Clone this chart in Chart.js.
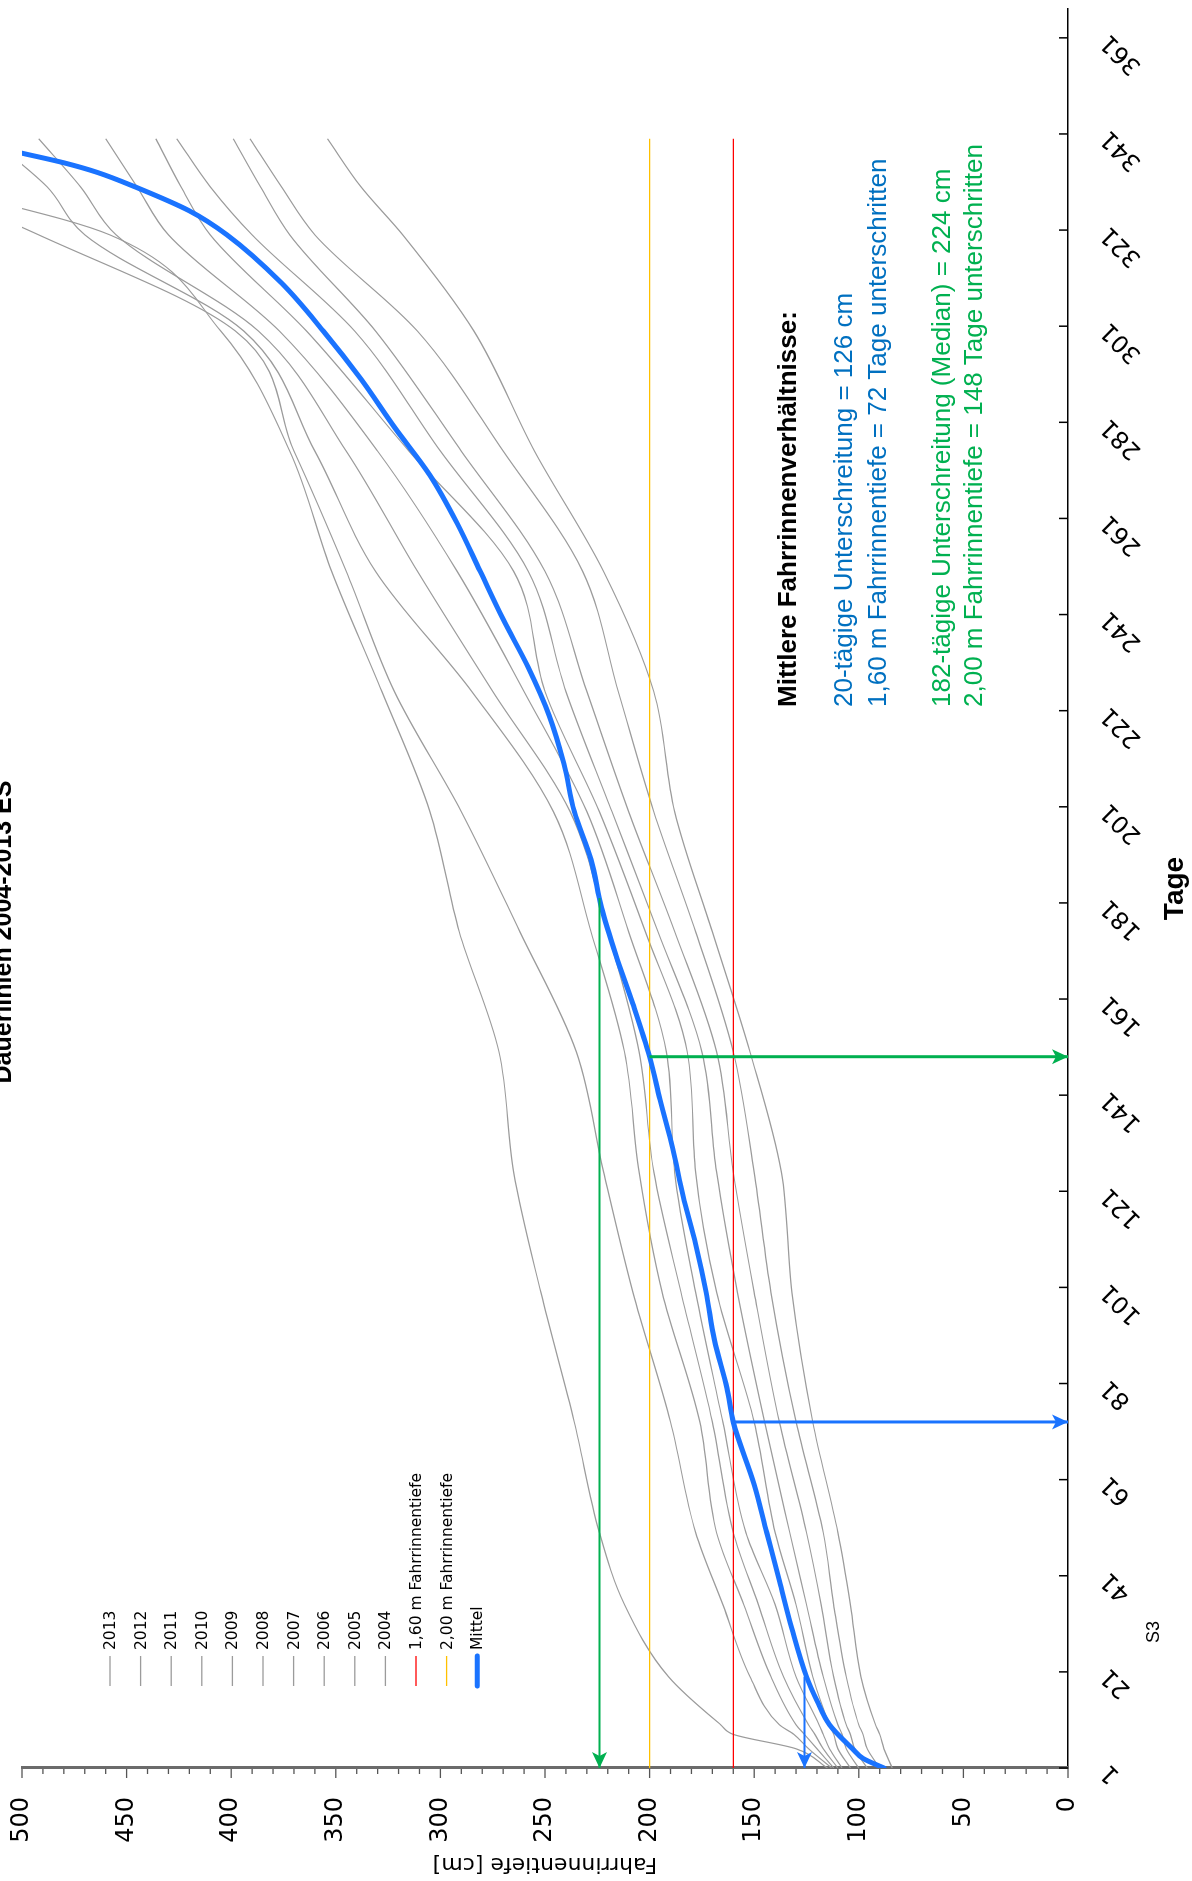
<!DOCTYPE html>
<html>
<head>
<meta charset="utf-8">
<script src="https://cdn.jsdelivr.net/npm/chart.js@4.4.0/dist/chart.umd.min.js"></script>
<style>
html, body { margin: 0; padding: 0; background: #fff; overflow: hidden; }
/* Diagramm liegt quer: Leinwand 1881x1192, um 90 Grad gegen den Uhrzeigersinn gedreht */
#wrap { position: absolute; left: 0; top: 0; width: 1881px; height: 1192px;
        transform-origin: 0 0; transform: translate(0, 1881px) rotate(-90deg); }
</style>
</head>
<body>
<div id="wrap"><canvas id="dauerlinien" width="1881" height="1192"></canvas></div>
<script>
/* Werte (Tage / Fahrrinnentiefe in cm) */

const grauTage = [1, 5, 8, 10, 20, 35, 50, 73, 100, 125, 150, 175, 200, 225, 250, 275, 300, 320, 330, 340];
const jahre = ['2013', '2012', '2011', '2010', '2009', '2008', '2007', '2006', '2005', '2004'];

const werte2013 = [115, 130, 160, 166, 191, 212, 224, 236, 252, 265, 272, 291, 305, 328, 352, 372, 405, 458, 540, 620];
const werte2012 = [113, 124, 131, 138, 152, 165, 178, 190, 208, 222, 235, 262, 290, 322, 345, 370, 398, 492, 545, 600];
const werte2011 = [112, 120, 126, 130, 142, 155, 168, 176, 194, 205, 212, 228, 246, 285, 331, 360, 394, 470, 488, 515];
const werte2010 = [110, 117, 121, 124, 136, 148, 160, 170, 185, 198, 205, 220, 238, 275, 311, 345, 387, 455, 472, 492];
const werte2009 = [108, 114, 117, 119, 130, 140, 154, 165, 178, 188, 192, 210, 230, 260, 292, 330, 377, 430, 445, 460];
const werte2008 = [104, 110, 112, 114, 122, 130, 140, 150, 168, 178, 182, 202, 224, 250, 265, 315, 364, 410, 424, 436];
const werte2007 = [100, 106, 108, 110, 117, 125, 133, 145, 158, 168, 175, 196, 218, 240, 258, 300, 341, 390, 410, 426];
const werte2006 = [96, 102, 104, 106, 112, 118, 125, 138, 150, 160, 168, 188, 210, 230, 250, 290, 331, 372, 386, 399];
const werte2005 = [90, 96, 98, 100, 106, 112, 117, 130, 142, 150, 160, 178, 198, 215, 232, 270, 311, 360, 376, 391];
const werte2004 = [84, 88, 90, 92, 99, 104, 110, 122, 132, 137, 152, 170, 188, 198, 222, 255, 284, 318, 338, 354];
const jahresWerte = [werte2013, werte2012, werte2011, werte2010, werte2009, werte2008, werte2007, werte2006, werte2005, werte2004];

const mittelTage = [1, 3, 5, 10, 15, 20, 30, 40, 50, 60, 73, 80, 90, 100, 110, 120, 130, 140, 149, 160, 170, 180,
                    190, 200, 210, 220, 230, 240, 250, 260, 270, 280, 290, 300, 310, 320, 325, 330, 333, 335, 337];
const mittelWerte = [88, 98, 103, 114, 120, 125, 132, 138, 144, 150, 160, 163, 169, 173, 178, 184, 189, 195, 200, 208, 216, 223,
                     228, 236, 241, 248, 258, 270, 281, 292, 305, 322, 338, 356, 376, 402, 420, 446, 464, 480, 500];

const schwelleTage = [1, 340];
const schwelle160 = [160, 160];
const schwelle200 = [200, 200];

// Pfeile: 72 Tage unter 1,60 m, 20-taegige Unterschreitung 126 cm, 148 Tage unter 2,00 m, Median 224 cm
const pfeil160Tage = [73, 73];   const pfeil160Werte = [160, 0];
const pfeil20Tage = [20, 1];     const pfeil20Werte = [126, 126];
const pfeil200Tage = [149, 149]; const pfeil200Werte = [200, 0];
const pfeil182Tage = [182, 1];   const pfeil182Werte = [224, 224];

const tagTicks = [1, 21, 41, 61, 81, 101, 121, 141, 161, 181, 201, 221, 241, 261, 281, 301, 321, 341, 361];
const tiefeTicks = [0, 50, 100, 150, 200, 250, 300, 350, 400, 450, 500];

const BLAU = '#1a73ff';
const GRUEN = '#00b050';

function punkte(tage, werte) {
    return tage.map((t, i) => ({ x: t, y: werte[i] }));
}

const datasets = [];

datasets.push({ label: 'Mittel', data: punkte(mittelTage, mittelWerte), borderColor: BLAU, borderWidth: 5,
    borderCapStyle: 'round', borderJoinStyle: 'round', cubicInterpolationMode: 'monotone', order: 2, legende: true });

jahre.forEach((j, i) => {
    datasets.push({ label: j, data: punkte(grauTage, jahresWerte[i]), borderColor: '#9b9b9b', borderWidth: 1.2,
        cubicInterpolationMode: 'monotone', order: 10, legende: true });
});

datasets.push({ label: '1,60 m Fahrrinnentiefe', data: punkte(schwelleTage, schwelle160), borderColor: '#ff0000',
    borderWidth: 1.2, order: 5, legende: true });
datasets.push({ label: '2,00 m Fahrrinnentiefe', data: punkte(schwelleTage, schwelle200), borderColor: '#ffc000',
    borderWidth: 1.2, order: 5, legende: true });

datasets.push({ label: 'p160', data: punkte(pfeil160Tage, pfeil160Werte), borderColor: BLAU, borderWidth: 3, order: 1, pfeil: true });
datasets.push({ label: 'p20', data: punkte(pfeil20Tage, pfeil20Werte), borderColor: BLAU, borderWidth: 2, order: 1, pfeil: true });
datasets.push({ label: 'p200', data: punkte(pfeil200Tage, pfeil200Werte), borderColor: GRUEN, borderWidth: 3, order: 1, pfeil: true });
datasets.push({ label: 'p182', data: punkte(pfeil182Tage, pfeil182Werte), borderColor: GRUEN, borderWidth: 2, order: 1, pfeil: true });

// Reihenfolge der Legende wie im Original
const legendenFolge = jahre.concat(['1,60 m Fahrrinnentiefe', '2,00 m Fahrrinnentiefe', 'Mittel']);

/* Striche an den Achsen: Tage nach innen, Tiefe nach aussen (10er klein, 50er gross) */
const achsenStriche = {
    id: 'achsenStriche',
    afterDraw(chart) {
        const { ctx, chartArea } = chart;
        const x = chart.scales.x, y = chart.scales.y;
        ctx.save();
        ctx.strokeStyle = '#000';
        ctx.lineWidth = 1.5;
        x.ticks.forEach(t => {
            const px = x.getPixelForValue(t.value);
            ctx.beginPath();
            ctx.moveTo(px, chartArea.bottom);
            ctx.lineTo(px, chartArea.bottom - 9);
            ctx.stroke();
        });
        ctx.strokeStyle = '#555';
        ctx.lineWidth = 1.3;
        for (let w = 0; w <= 500; w += 10) {
            const py = y.getPixelForValue(w);
            const len = w % 50 === 0 ? 9 : 5;
            ctx.beginPath();
            ctx.moveTo(chartArea.left - 1, py);
            ctx.lineTo(chartArea.left - 1 - len, py);
            ctx.stroke();
        }
        ctx.restore();
    }
};

/* Pfeilspitzen am letzten Punkt der Pfeil-Datensaetze */
const pfeilSpitzen = {
    id: 'pfeilSpitzen',
    afterDatasetsDraw(chart) {
        const ctx = chart.ctx;
        chart.data.datasets.forEach((ds, i) => {
            if (!ds.pfeil) return;
            const pts = chart.getDatasetMeta(i).data;
            const a = pts[0], b = pts[pts.length - 1];
            const ang = Math.atan2(b.y - a.y, b.x - a.x);
            const len = 16, half = 7.5;
            ctx.save();
            ctx.translate(b.x, b.y);
            ctx.rotate(ang);
            ctx.fillStyle = ds.borderColor;
            ctx.beginPath();
            ctx.moveTo(0, 0);
            ctx.lineTo(-len, -half);
            ctx.lineTo(-len * 0.75, 0);
            ctx.lineTo(-len, half);
            ctx.closePath();
            ctx.fill();
            ctx.restore();
        });
    }
};

/* Legende oben links im Diagramm, Beschriftungen, Titel */
const beschriftung = {
    id: 'beschriftung',
    afterDraw(chart) {
        const ctx = chart.ctx;
        const area = chart.chartArea;
        ctx.save();

        // Legende
        ctx.font = '15.5px "DejaVu Sans"';
        ctx.textBaseline = 'middle';
        ctx.textAlign = 'left';
        legendenFolge.forEach((lab, k) => {
            const ds = chart.data.datasets.find(d => d.label === lab);
            const v = 110 + k * 30.6;
            ctx.strokeStyle = ds.borderColor;
            ctx.lineWidth = lab === 'Mittel' ? 5 : 1.3;
            ctx.lineCap = lab === 'Mittel' ? 'round' : 'butt';
            ctx.beginPath();
            ctx.moveTo(area.left + 82, v);
            ctx.lineTo(area.left + 112, v);
            ctx.stroke();
            ctx.fillStyle = '#000';
            ctx.fillText(lab, area.left + 118, v + 1);
        });

        // Kennwerte
        const tx = 1174;
        ctx.fillStyle = '#000';
        ctx.font = 'bold 26px "Liberation Sans", Arial';
        ctx.fillText('Mittlere Fahrrinnenverhältnisse:', tx, 789);
        ctx.font = '26px "Liberation Sans", Arial';
        ctx.fillStyle = '#0070c0';
        ctx.fillText('20-tägige Unterschreitung = 126 cm', tx, 845);
        ctx.fillText('1,60 m Fahrrinnentiefe = 72 Tage unterschritten', tx, 879);
        ctx.fillStyle = GRUEN;
        ctx.fillText('182-tägige Unterschreitung (Median) = 224 cm', tx, 943);
        ctx.fillText('2,00 m Fahrrinnentiefe = 148 Tage unterschritten', tx, 975);

        // Pegelkennung
        ctx.fillStyle = '#000';
        ctx.font = '18px "Liberation Sans", Arial';
        ctx.textAlign = 'center';
        ctx.fillText('S3', 249, 1154);

        // Titel (oben angeschnitten)
        ctx.font = 'bold 25px "Liberation Sans", Arial';
        ctx.textBaseline = 'alphabetic';
        ctx.fillText('Dauerlinien 2004-2013 ES', 949, 11);
        ctx.restore();
    }
};

const CHART = document.getElementById('dauerlinien');
const dauerChart = new Chart(CHART, {
    type: 'line',
    data: { datasets: datasets },
    options: {
        responsive: false,
        animation: false,
        events: [],
        layout: { padding: { left: 0, right: 9, top: 22, bottom: 0 } },
        elements: { point: { radius: 0 }, line: { tension: 0 } },
        plugins: { legend: { display: false }, tooltip: { enabled: false }, title: { display: false } },
        scales: {
            x: {
                type: 'linear',
                min: 1,
                max: 367,
                afterBuildTicks: s => { s.ticks = tagTicks.map(v => ({ value: v })); },
                afterFit: s => { s.height = 124; s.paddingLeft = 0; s.paddingRight = 0; },
                grid: { display: true, drawOnChartArea: false, drawTicks: false },
                border: { display: true, color: '#000', width: 1.5 },
                ticks: {
                    autoSkip: false, minRotation: 45, maxRotation: 45, padding: 27, color: '#000',
                    font: { family: 'DejaVu Sans', size: 24 }
                },
                title: {
                    display: true, text: 'Tage', color: '#000', padding: { top: 0, bottom: 0 },
                    font: { family: 'Liberation Sans', size: 28, weight: 'bold' }
                }
            },
            y: {
                type: 'linear',
                min: 0,
                max: 500,
                afterBuildTicks: s => { s.ticks = tiefeTicks.map(v => ({ value: v })); },
                afterFit: s => { s.width = 113; s.paddingTop = 0; s.paddingBottom = 0; },
                grid: { display: true, drawOnChartArea: false, drawTicks: false },
                border: { display: true, color: '#6b6b6b', width: 3 },
                ticks: { padding: 29, color: '#000', font: { family: 'DejaVu Sans', size: 24 } },
                title: {
                    display: true, text: 'Fahrrinnentiefe [cm]', color: '#000', padding: { top: 4, bottom: 4 },
                    font: { family: 'DejaVu Sans', size: 22 }
                }
            }
        }
    },
    plugins: [achsenStriche, pfeilSpitzen, beschriftung]
});
</script>
</body>
</html>
